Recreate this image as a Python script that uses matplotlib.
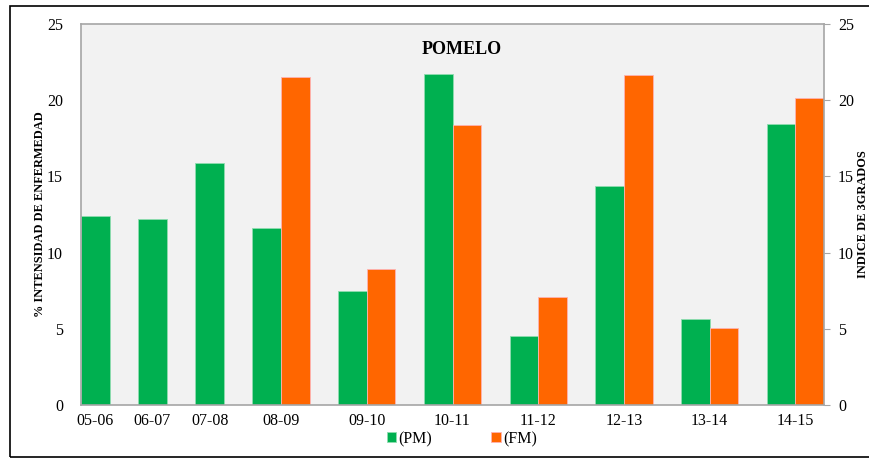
import matplotlib
matplotlib.use("Agg")
import matplotlib.pyplot as plt
from matplotlib.patches import Rectangle

plt.rcParams['font.family'] = ['Liberation Serif', 'DejaVu Serif']

campanas = ["05-06", "06-07", "07-08", "08-09", "09-10", "10-11", "11-12", "12-13", "13-14", "14-15"]
pm = [12.4, 12.2, 15.85, 11.6, 7.45, 21.75, 4.5, 14.4, 5.65, 18.45]
fm = [None, None, None, 21.5, 8.9, 18.4, 7.1, 21.65, 5.05, 20.15]

verde = "#00B050"
naranja = "#FF6600"
gris = "#A6A6A6"

# bar slots: width 1, one empty slot between groups, no slot when FM is missing
x_pm, x_fm, ticks = [], [], []
pos = 0
for p, f in zip(pm, fm):
    x_pm.append(pos)
    if f is None:
        ticks.append(pos + 0.5)
        pos += 2
    else:
        x_fm.append(pos + 1)
        ticks.append(pos + 1)
        pos += 3

fig = plt.figure(figsize=(8.69, 4.59), dpi=100)
ax = fig.add_axes([81/869, 1 - 405/459, (824 - 81)/869, (405 - 24)/459])
ax.set_facecolor("#F2F2F2")

ax.bar(x_pm, pm, width=1, align="edge", color=verde, edgecolor="#8FDDB0", linewidth=0.6, label="(PM)")
ax.bar(x_fm, [f for f in fm if f is not None], width=1, align="edge", color=naranja,
       edgecolor="#FFB3B3", linewidth=0.6, label="(FM)")

ax.set_xlim(0, pos - 1)
ax.set_ylim(0, 25)
ax.set_yticks([0, 5, 10, 15, 20, 25])
ax.set_xticks(ticks)
ax.set_xticklabels(campanas)
ax.tick_params(axis="both", length=0, labelsize=11.5)
ax.tick_params(axis="x", pad=6)
ax.tick_params(axis="y", pad=13)
for s in ax.spines.values():
    s.set_color(gris)
    s.set_linewidth(1.2)

ax.set_ylabel("% INTENSIDAD DE ENFERMEDAD", fontsize=8.9, fontweight="bold", labelpad=1)

ax2 = ax.twinx()
ax2.set_ylim(0, 25)
ax2.set_yticks([0, 5, 10, 15, 20, 25])
ax2.tick_params(axis="y", length=4, color=gris, labelsize=11.5, pad=6)
for s in ax2.spines.values():
    s.set_visible(False)

fig.text(857/869, 1 - 214/459, "INDICE DE 3GRADOS", rotation=90, ha="left", va="center",
         fontsize=8.9, fontweight="bold")

ax.text(0.512, 0.955, "POMELO", transform=ax.transAxes, ha="center", va="top",
        fontsize=13, fontweight="bold")

fig.legend(loc="center", bbox_to_anchor=(462/869, 1 - 439/459), ncol=2, frameon=False,
           fontsize=11.5, handlelength=0.6, handleheight=0.6, handletextpad=0.15,
           columnspacing=3.7)

fig.patches.append(Rectangle((10/869, 1 - 457/459), 1, 451/459, transform=fig.transFigure,
                             fill=False, edgecolor="black", linewidth=1.2))

fig.savefig("out.png", dpi=100)
